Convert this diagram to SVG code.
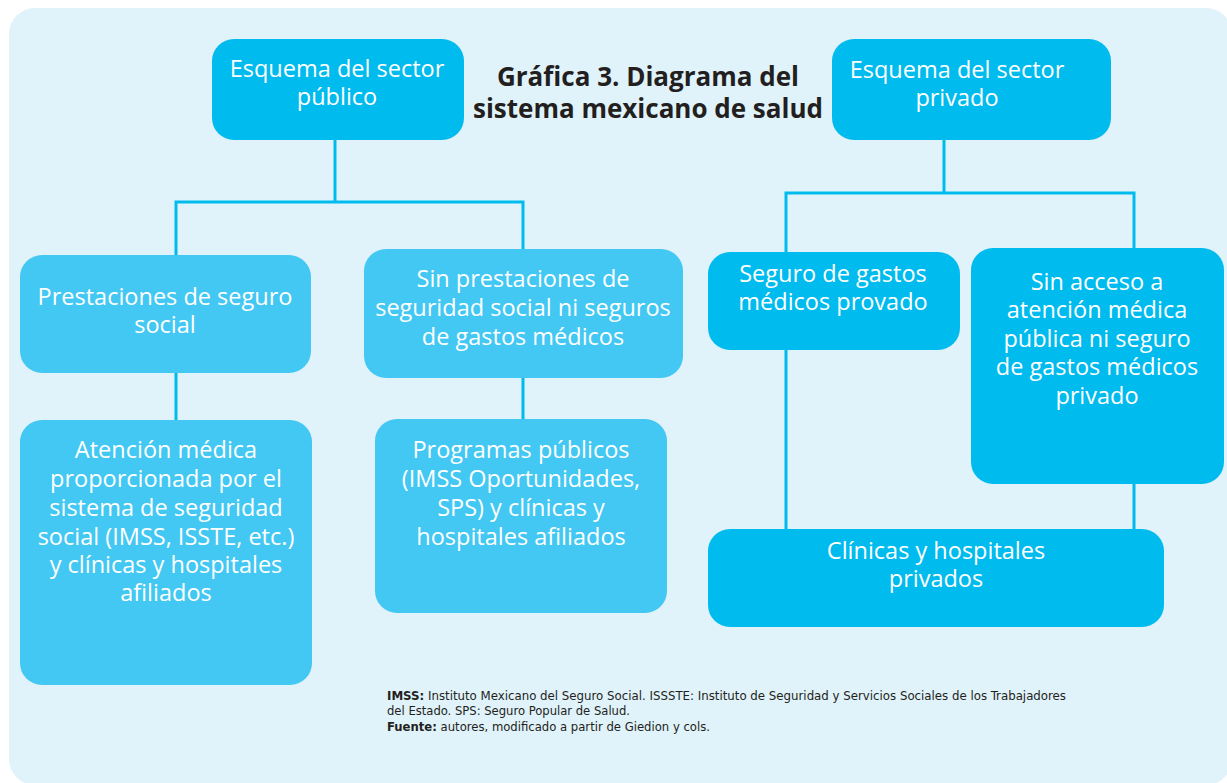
<svg xmlns="http://www.w3.org/2000/svg" width="1227" height="783" viewBox="0 0 1227 783">
<style>
.dark{fill:#00BBEE;}
.light{fill:#42C8F3;}
.nt{font-family:"Open Sans","Noto Sans",sans-serif;font-size:23.5px;fill:#FFFFFF;text-anchor:middle;}
.title{font-family:"Open Sans","Noto Sans",sans-serif;font-size:26px;font-weight:700;fill:#231F20;text-anchor:middle;}
.fn{font-family:"DejaVu Sans Condensed","DejaVu Sans",sans-serif;font-stretch:condensed;font-size:12.5px;fill:#231F20;}
.conn{fill:none;stroke:#00BBEE;stroke-width:3;}
</style>
<rect x="9" y="8" width="1223" height="777" rx="26" fill="#E0F2FA"/>
<g id="connectors" class="conn">
<path d="M335 140 V202 M176 255 V202 H523 V249"/>
<path d="M176 373 V420"/>
<path d="M523 378 V419"/>
<path d="M944 140 V193 M786 252 V193 H1134 V248"/>
<path d="M786 350 V529"/>
<path d="M1134 484 V529"/>
</g>
<g id="title">
<text class="title" x="648" y="86">Gráfica 3. Diagrama del</text>
<text class="title" x="648" y="118">sistema mexicano de salud</text>
</g>
<g id="n-publico">
<rect class="dark" x="212" y="39" width="252" height="101" rx="22"/>
<text class="nt" x="337" y="77">Esquema del sector</text>
<text class="nt" x="337" y="105">público</text>
</g>
<g id="n-privado">
<rect class="dark" x="832" y="39" width="279" height="101" rx="22"/>
<text class="nt" x="957" y="78">Esquema del sector</text>
<text class="nt" x="957" y="106">privado</text>
</g>
<g id="n-prestaciones">
<rect class="light" x="20" y="255" width="291" height="118" rx="22"/>
<text class="nt" x="165" y="305">Prestaciones de seguro</text>
<text class="nt" x="165" y="333">social</text>
</g>
<g id="n-sinprestaciones">
<rect class="light" x="364" y="249" width="319" height="129" rx="22"/>
<text class="nt" x="523" y="287">Sin prestaciones de</text>
<text class="nt" x="523" y="316">seguridad social ni seguros</text>
<text class="nt" x="523" y="345">de gastos médicos</text>
</g>
<g id="n-seguro">
<rect class="dark" x="708" y="252" width="252" height="98" rx="22"/>
<text class="nt" x="833" y="282">Seguro de gastos</text>
<text class="nt" x="833" y="310">médicos provado</text>
</g>
<g id="n-sinacceso">
<rect class="dark" x="971" y="248" width="253" height="236" rx="22"/>
<text class="nt" x="1097" y="290">Sin acceso a</text>
<text class="nt" x="1097" y="318">atención médica</text>
<text class="nt" x="1097" y="347">pública ni seguro</text>
<text class="nt" x="1097" y="375">de gastos médicos</text>
<text class="nt" x="1097" y="404">privado</text>
</g>
<g id="n-atencion">
<rect class="light" x="20" y="420" width="292" height="265" rx="22"/>
<text class="nt" x="166" y="458">Atención médica</text>
<text class="nt" x="166" y="487">proporcionada por el</text>
<text class="nt" x="166" y="516">sistema de seguridad</text>
<text class="nt" x="166" y="545">social (IMSS, ISSTE, etc.)</text>
<text class="nt" x="166" y="573">y clínicas y hospitales</text>
<text class="nt" x="166" y="601">afiliados</text>
</g>
<g id="n-programas">
<rect class="light" x="375" y="419" width="292" height="194" rx="22"/>
<text class="nt" x="521" y="458">Programas públicos</text>
<text class="nt" x="521" y="487">(IMSS Oportunidades,</text>
<text class="nt" x="521" y="516">SPS) y clínicas y</text>
<text class="nt" x="521" y="545">hospitales afiliados</text>
</g>
<g id="n-clinicas">
<rect class="dark" x="708" y="529" width="456" height="98" rx="22"/>
<text class="nt" x="936" y="559">Clínicas y hospitales</text>
<text class="nt" x="936" y="587">privados</text>
</g>
<g id="footnote">
<text class="fn" x="387" y="700" textLength="679" lengthAdjust="spacingAndGlyphs"><tspan font-weight="700">IMSS:</tspan> Instituto Mexicano del Seguro Social. ISSSTE: Instituto de Seguridad y Servicios Sociales de los Trabajadores</text>
<text class="fn" x="387" y="715" textLength="243" lengthAdjust="spacingAndGlyphs">del Estado. SPS: Seguro Popular de Salud.</text>
<text class="fn" x="387" y="731" textLength="323" lengthAdjust="spacingAndGlyphs"><tspan font-weight="700">Fuente:</tspan> autores, modificado a partir de Giedion y cols.</text>
</g>
</svg>
